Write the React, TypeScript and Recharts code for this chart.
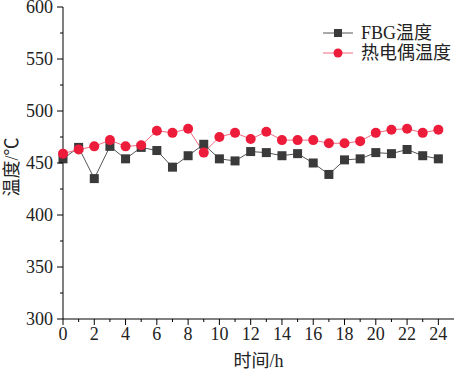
import { LineChart, Line, XAxis, YAxis, Label } from 'recharts'

const hours = [0, 1, 2, 3, 4, 5, 6, 7, 8, 9, 10, 11, 12, 13, 14, 15, 16, 17, 18, 19, 20, 21, 22, 23, 24]
const fbgTemp = [454, 465, 435, 466, 454, 465, 462, 446, 457, 468, 454, 452, 461, 460, 457, 459, 450, 439, 453, 454, 460, 459, 463, 457, 454]
const tcTemp = [459, 463, 466, 472, 466, 467, 481, 479, 483, 460, 475, 479, 473, 480, 472, 472, 472, 469, 469, 471, 479, 482, 483, 479, 482]
const yTicks = [300, 325, 350, 375, 400, 425, 450, 475, 500, 525, 550, 575, 600]
const xTicks = [0, 1, 2, 3, 4, 5, 6, 7, 8, 9, 10, 11, 12, 13, 14, 15, 16, 17, 18, 19, 20, 21, 22, 23, 24]

const data = hours.map((h, i) => ({ h, fbg: fbgTemp[i], tc: tcTemp[i] }))

const FONT = '"Liberation Serif", "Noto Sans CJK SC", serif'
const SQ_COLOR = '#3a3a3a'
const SQ_LINE = '#555555'
const RED = '#ec1c3a'
const RED_LINE = '#f06a80'

const TICK_SIZE = 6
const TICK_MARGIN = 4

const YTick = (p: any) => {
  const v = p.payload.value
  const major = v % 50 === 0
  const ax = p.x + TICK_SIZE + TICK_MARGIN
  return (
    <g>
      <line x1={ax - (major ? 6 : 3)} x2={ax} y1={p.y} y2={p.y} stroke="#000" strokeWidth={1} />
      {major && (
        <text x={ax - 10} y={p.y} textAnchor="end" dominantBaseline="central" fontSize={18} fontFamily={FONT} fill="#222">
          {v}
        </text>
      )}
    </g>
  )
}

const XTick = (p: any) => {
  const v = p.payload.value
  const major = v % 2 === 0
  const ay = p.y - TICK_SIZE - TICK_MARGIN
  return (
    <g>
      <line x1={p.x} x2={p.x} y1={ay} y2={ay + (major ? 6 : 3)} stroke="#000" strokeWidth={1} />
      {major && (
        <text x={p.x} y={ay + 8} textAnchor="middle" dominantBaseline="hanging" fontSize={18} fontFamily={FONT} fill="#222">
          {v}
        </text>
      )}
    </g>
  )
}

const SquareDot = (p: any) => {
  if (p.cx == null || p.cy == null) return null
  return <rect key={p.index} x={p.cx - 4.5} y={p.cy - 4.5} width={9} height={9} fill={SQ_COLOR} />
}

const CircleDot = (p: any) => {
  if (p.cx == null || p.cy == null) return null
  return <circle key={p.index} cx={p.cx} cy={p.cy} r={5} fill={RED} />
}

// legend drawn as an overlay so it does not eat into the plot area
const LegendBox = () => (
  <div style={{ position: 'absolute', left: 321, top: 23, fontFamily: FONT, fontSize: 18, color: '#222', lineHeight: '20px' }}>
    <div style={{ display: 'flex', alignItems: 'center' }}>
      <svg width={34} height={20}>
        <line x1={2} x2={32} y1={10} y2={10} stroke={SQ_LINE} strokeWidth={1} />
        <rect x={13} y={6} width={8} height={8} fill={SQ_COLOR} />
      </svg>
      <span style={{ marginLeft: 6 }}>FBG温度</span>
    </div>
    <div style={{ display: 'flex', alignItems: 'center' }}>
      <svg width={34} height={20}>
        <line x1={2} x2={32} y1={10} y2={10} stroke={RED_LINE} strokeWidth={1} />
        <circle cx={17} cy={10} r={4.5} fill={RED} />
      </svg>
      <span style={{ marginLeft: 6 }}>热电偶温度</span>
    </div>
  </div>
)

export default function App() {
  return (
    <div style={{ position: 'absolute', left: 0, top: 0, width: 456, height: 371, background: '#fff' }}>
      <LineChart width={456} height={371} data={data} margin={{ top: 7, right: 2, left: 0, bottom: 0 }}>
        <XAxis
          dataKey="h"
          type="number"
          domain={[0, 25]}
          ticks={xTicks}
          interval={0}
          height={52}
          stroke="#000"
          tickLine={false}
          tickSize={TICK_SIZE}
          tickMargin={TICK_MARGIN}
          tick={<XTick />}
        >
          <Label value="时间/h" position="insideBottom" offset={4} style={{ fontFamily: FONT, fontSize: 18, fill: '#222' }} />
        </XAxis>
        <YAxis
          type="number"
          domain={[300, 600]}
          ticks={yTicks}
          interval={0}
          width={63}
          stroke="#000"
          tickLine={false}
          tickSize={TICK_SIZE}
          tickMargin={TICK_MARGIN}
          tick={<YTick />}
        >
          <Label value="温度/℃" angle={-90} position="insideLeft" offset={12} dy={4} style={{ fontFamily: FONT, fontSize: 18, fill: '#222', textAnchor: 'middle' }} />
        </YAxis>
        <Line dataKey="fbg" stroke={SQ_LINE} strokeWidth={1} dot={<SquareDot />} activeDot={false} isAnimationActive={false} />
        <Line dataKey="tc" stroke={RED_LINE} strokeWidth={1} dot={<CircleDot />} activeDot={false} isAnimationActive={false} />
      </LineChart>
      <LegendBox />
    </div>
  )
}
